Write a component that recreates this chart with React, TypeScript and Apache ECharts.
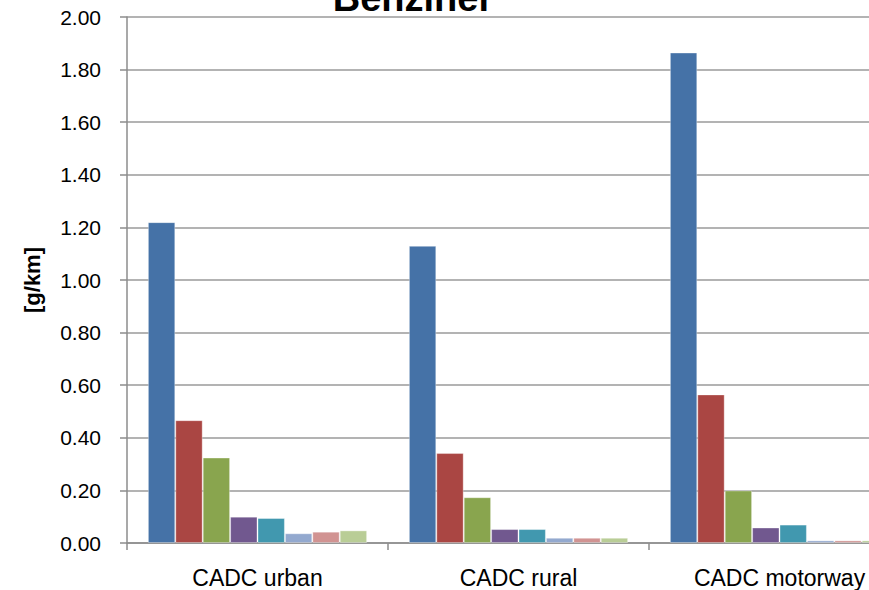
import React, { useEffect, useRef } from "react";
import * as echarts from "echarts";

const categories = ["CADC urban", "CADC rural", "CADC motorway"];

const seriesNames = ["Serie 1", "Serie 2", "Serie 3", "Serie 4", "Serie 5", "Serie 6", "Serie 7", "Serie 8"];

const seriesValues = [
  [1.22, 1.13, 1.865],
  [0.467, 0.342, 0.565],
  [0.325, 0.174, 0.2],
  [0.1, 0.053, 0.059],
  [0.095, 0.053, 0.07],
  [0.037, 0.02, 0.01],
  [0.043, 0.02, 0.01],
  [0.048, 0.02, 0.01],
];

const seriesColors = ["#4572A7", "#AA4643", "#89A54E", "#71588F", "#4198AF", "#93A9CF", "#D19392", "#B9CD96"];

const yTicks = { min: 0, max: 2, interval: 0.2 };

export default function App() {
  const ref = useRef<HTMLDivElement>(null);

  useEffect(() => {
    if (!ref.current) return;
    const chart = echarts.init(ref.current, null, { renderer: "svg" });
    const font = "'Liberation Sans', Arial, sans-serif";
    chart.setOption({
      animation: false,
      backgroundColor: "#ffffff",
      grid: { left: 127, top: 17, right: 50, bottom: 47, containLabel: false },
      graphic: [
        {
          type: "text",
          x: 413,
          y: -2,
          style: {
            text: "Benziner",
            font: `bold 38px ${font}`,
            fill: "#000000",
            textAlign: "center",
            textVerticalAlign: "middle",
          },
        },
      ],
      xAxis: {
        type: "category",
        data: categories,
        axisLine: { show: true, lineStyle: { color: "#8c8c8c", width: 1.5 } },
        axisTick: { show: true, length: 7, alignWithLabel: false, lineStyle: { color: "#8c8c8c", width: 1.5 } },
        axisLabel: { color: "#000000", fontFamily: font, fontSize: 23, margin: 23 },
        splitLine: { show: false },
      },
      yAxis: {
        type: "value",
        min: yTicks.min,
        max: yTicks.max,
        interval: yTicks.interval,
        name: "[g/km]",
        nameLocation: "middle",
        nameGap: 84,
        nameRotate: 90,
        nameTextStyle: { color: "#000000", fontFamily: font, fontSize: 22, fontWeight: "bold" },
        axisLine: { show: true, lineStyle: { color: "#8c8c8c", width: 1.5 } },
        axisTick: { show: true, length: 7, inside: false, lineStyle: { color: "#8c8c8c", width: 1.5 } },
        axisLabel: {
          color: "#000000",
          fontFamily: font,
          fontSize: 21,
          margin: 26,
          formatter: (v: number) => v.toFixed(2),
        },
        splitLine: { show: true, lineStyle: { color: "#9a9a9a", width: 1.5 } },
      },
      series: seriesValues.map((vals, i) => ({
        name: seriesNames[i],
        type: "bar",
        data: vals,
        barGap: "0%",
        barCategoryGap: "16%",
        itemStyle: {
          color: seriesColors[i],
          borderColor: "rgba(255,255,255,0.35)",
          borderWidth: 1,
        },
      })),
    });
    return () => chart.dispose();
  }, []);

  return (
    <div style={{ position: "fixed", left: 0, top: 0, width: 869, height: 590, overflow: "hidden", background: "#fff" }}>
      <div ref={ref} style={{ width: 960, height: 590 }} />
    </div>
  );
}
